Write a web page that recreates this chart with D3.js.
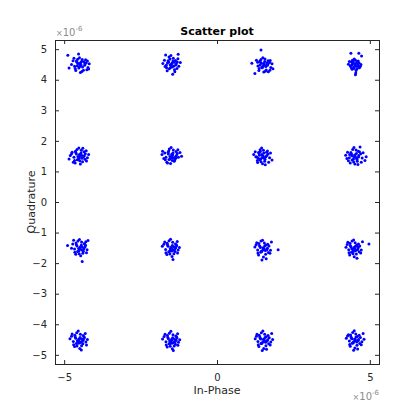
<!DOCTYPE html>
<html>
<head>
<meta charset="utf-8">
<script src="https://cdn.jsdelivr.net/npm/d3@7"></script>
<style>
  body { margin: 0; background: #fff; }
  text { font-family: "DejaVu Sans", sans-serif; }
</style>
</head>
<body>
<script>
// values in units of 1e-6
var xTicks = [-5, 0, 5];
var yTicks = [-5, -4, -3, -2, -1, 0, 1, 2, 3, 4, 5];
var exponent = -6;

var rowTop = [
  [-4.48,4.52],[-4.60,4.61],[-4.33,4.47],[-4.52,4.38],[-4.28,4.55],[-4.66,4.44],[-4.41,4.66],[-4.37,4.31],[-4.71,4.62],[-4.45,4.49],[-4.55,4.53],[-4.35,4.59],[-4.62,4.30],[-4.22,4.40],[-4.50,4.72],[-4.40,4.42],[-4.76,4.50],[-4.30,4.65],[-4.47,4.24],[-4.18,4.52],[-4.58,4.57],[-4.43,4.60],[-4.64,4.37],[-4.49,4.43],[-4.32,4.53],[-4.56,4.67],[-4.26,4.33],[-4.88,4.80],[-4.53,4.84],[-4.84,4.38],[-4.42,4.27],[-4.68,4.70],[-4.24,4.61],[-4.20,4.35],[-4.46,4.56],[-4.57,4.46],
  [-1.47,4.55],[-1.60,4.62],[-1.35,4.48],[-1.52,4.40],[-1.30,4.58],[-1.66,4.47],[-1.43,4.70],[-1.39,4.33],[-1.72,4.64],[-1.49,4.51],[-1.56,4.36],[-1.36,4.63],[-1.63,4.29],[-1.25,4.44],[-1.51,4.79],[-1.41,4.45],[-1.77,4.53],[-1.28,4.69],[-1.45,4.18],[-1.20,4.56],[-1.58,4.58],[-1.44,4.61],[-1.65,4.39],[-1.50,4.46],[-1.33,4.52],[-1.57,4.74],[-1.27,4.83],[-1.68,4.81],[-1.38,4.26],[-1.62,4.55],[-1.46,4.42],[-1.54,4.68],[-1.31,4.37],[-1.70,4.43],[-1.40,4.57],[-1.53,4.49],
  [1.52,4.53],[1.40,4.61],[1.65,4.47],[1.48,4.39],[1.72,4.56],[1.34,4.45],[1.57,4.68],[1.61,4.32],[1.29,4.64],[1.55,4.50],[1.45,4.54],[1.67,4.62],[1.37,4.30],[1.76,4.40],[1.50,4.72],[1.60,4.43],[1.83,4.36],[1.68,4.26],[1.53,4.25],[1.80,4.52],[1.42,4.58],[1.56,4.60],[1.38,4.37],[1.51,4.44],[1.66,4.51],[1.44,4.66],[1.73,4.31],[1.14,4.54],[1.44,4.97],[1.24,4.20],[1.58,4.28],[1.33,4.57],[1.74,4.63],[1.47,4.41],[1.63,4.55],[1.41,4.48],
  [4.50,4.52],[4.40,4.58],[4.61,4.47],[4.47,4.41],[4.65,4.55],[4.36,4.46],[4.53,4.64],[4.58,4.36],[4.33,4.60],[4.52,4.49],[4.44,4.53],[4.62,4.61],[4.42,4.34],[4.69,4.44],[4.49,4.68],[4.56,4.44],[4.30,4.51],[4.66,4.39],[4.54,4.22],[4.71,4.50],[4.45,4.57],[4.57,4.56],[4.39,4.40],[4.51,4.45],[4.60,4.52],[4.46,4.63],[4.55,4.30],[4.38,4.87],[4.64,4.87],[4.73,4.78],[4.53,4.16],[4.41,4.48],[4.63,4.43],[4.48,4.37],[4.59,4.58],[4.43,4.64]
];

var rowUpper = [
  [-4.50,1.55],[-4.62,1.62],[-4.37,1.47],[-4.54,1.40],[-4.31,1.58],[-4.68,1.46],[-4.44,1.69],[-4.40,1.32],[-4.74,1.63],[-4.48,1.50],[-4.57,1.38],[-4.35,1.64],[-4.64,1.28],[-4.24,1.45],[-4.52,1.77],[-4.42,1.43],[-4.80,1.52],[-4.28,1.68],[-4.47,1.24],[-4.20,1.55],[-4.60,1.57],[-4.45,1.60],[-4.66,1.36],[-4.51,1.44],[-4.34,1.51],[-4.58,1.72],[-4.27,1.34],[-4.84,1.41],[-4.39,1.76],[-4.70,1.30],[-4.55,1.49],[-4.43,1.53],[-4.63,1.66],[-4.32,1.40],[-4.49,1.35],[-4.76,1.58],
  [-1.48,1.56],[-1.60,1.63],[-1.36,1.47],[-1.53,1.41],[-1.30,1.59],[-1.67,1.46],[-1.43,1.70],[-1.40,1.33],[-1.78,1.66],[-1.47,1.51],[-1.57,1.39],[-1.34,1.65],[-1.64,1.30],[-1.26,1.46],[-1.50,1.78],[-1.42,1.44],[-1.80,1.55],[-1.21,1.62],[-1.52,1.26],[-1.16,1.50],[-1.59,1.57],[-1.44,1.60],[-1.69,1.38],[-1.49,1.45],[-1.33,1.52],[-1.56,1.73],[-1.62,1.28],[-1.74,1.42],[-1.38,1.37],[-1.28,1.71],[-1.54,1.49],[-1.45,1.54],[-1.71,1.60],[-1.35,1.43],[-1.46,1.36],[-1.58,1.67],
  [1.47,1.55],[1.36,1.62],[1.60,1.48],[1.43,1.41],[1.67,1.57],[1.30,1.47],[1.52,1.69],[1.56,1.33],[1.25,1.64],[1.50,1.51],[1.40,1.38],[1.62,1.63],[1.33,1.29],[1.72,1.45],[1.46,1.77],[1.55,1.44],[1.20,1.55],[1.75,1.60],[1.49,1.25],[1.80,1.37],[1.38,1.58],[1.53,1.60],[1.32,1.36],[1.48,1.45],[1.63,1.52],[1.41,1.71],[1.58,1.22],[1.69,1.30],[1.27,1.48],[1.44,1.32],[1.51,1.49],[1.39,1.53],[1.65,1.67],[1.35,1.43],[1.57,1.40],[1.42,1.65],
  [4.50,1.54],[4.38,1.62],[4.63,1.47],[4.46,1.40],[4.70,1.58],[4.33,1.45],[4.55,1.70],[4.59,1.33],[4.27,1.63],[4.52,1.50],[4.42,1.37],[4.66,1.64],[4.36,1.28],[4.75,1.44],[4.48,1.78],[4.57,1.43],[4.21,1.53],[4.78,1.61],[4.51,1.24],[4.84,1.36],[4.40,1.57],[4.56,1.59],[4.30,1.35],[4.49,1.46],[4.64,1.52],[4.44,1.72],[4.61,1.23],[4.72,1.30],[4.25,1.42],[4.47,1.31],[4.68,1.80],[4.41,1.51],[4.62,1.66],[4.34,1.55],[4.58,1.39],[4.88,1.48]
];

var rowLower = [
  [-4.48,-1.47],[-4.60,-1.40],[-4.36,-1.53],[-4.52,-1.60],[-4.30,-1.42],[-4.66,-1.54],[-4.43,-1.31],[-4.39,-1.68],[-4.72,-1.37],[-4.47,-1.50],[-4.56,-1.62],[-4.34,-1.36],[-4.62,-1.71],[-4.25,-1.56],[-4.50,-1.23],[-4.41,-1.57],[-4.89,-1.42],[-4.29,-1.30],[-4.46,-1.76],[-4.22,-1.26],[-4.58,-1.44],[-4.44,-1.41],[-4.65,-1.64],[-4.49,-1.55],[-4.33,-1.48],[-4.55,-1.28],[-4.27,-1.66],[-4.76,-1.51],[-4.41,-1.95],[-4.69,-1.25],[-4.53,-1.52],[-4.42,-1.46],[-4.61,-1.34],[-4.37,-1.61],[-4.51,-1.69],[-4.32,-1.39],
  [-1.50,-1.48],[-1.62,-1.41],[-1.38,-1.54],[-1.55,-1.61],[-1.32,-1.43],[-1.68,-1.55],[-1.45,-1.32],[-1.41,-1.69],[-1.74,-1.38],[-1.49,-1.51],[-1.58,-1.63],[-1.36,-1.37],[-1.64,-1.72],[-1.27,-1.57],[-1.52,-1.22],[-1.43,-1.58],[-1.79,-1.45],[-1.30,-1.29],[-1.47,-1.78],[-1.23,-1.49],[-1.60,-1.45],[-1.46,-1.42],[-1.67,-1.66],[-1.51,-1.56],[-1.35,-1.50],[-1.57,-1.27],[-1.29,-1.67],[-1.71,-1.31],[-1.44,-1.88],[-1.53,-1.53],[-1.40,-1.47],[-1.63,-1.35],[-1.37,-1.62],[-1.54,-1.70],[-1.33,-1.40],[-1.48,-1.60],
  [1.51,-1.50],[1.39,-1.43],[1.63,-1.56],[1.46,-1.62],[1.70,-1.44],[1.33,-1.57],[1.55,-1.34],[1.59,-1.71],[1.28,-1.40],[1.53,-1.52],[1.43,-1.64],[1.66,-1.38],[1.36,-1.73],[1.75,-1.58],[1.49,-1.25],[1.58,-1.59],[1.24,-1.47],[1.78,-1.31],[1.52,-1.80],[2.00,-1.56],[1.41,-1.46],[1.56,-1.44],[1.34,-1.67],[1.50,-1.57],[1.65,-1.51],[1.44,-1.28],[1.61,-1.86],[1.73,-1.68],[1.30,-1.33],[1.47,-1.90],[1.54,-1.54],[1.42,-1.49],[1.68,-1.65],[1.37,-1.36],[1.60,-1.41],[1.45,-1.61],
  [4.48,-1.49],[4.36,-1.42],[4.60,-1.55],[4.44,-1.62],[4.67,-1.44],[4.31,-1.56],[4.52,-1.33],[4.56,-1.70],[4.26,-1.39],[4.50,-1.51],[4.40,-1.64],[4.63,-1.37],[4.34,-1.73],[4.72,-1.57],[4.47,-1.24],[4.55,-1.58],[4.22,-1.48],[4.97,-1.37],[4.49,-1.79],[4.76,-1.30],[4.38,-1.46],[4.53,-1.45],[4.32,-1.66],[4.46,-1.56],[4.62,-1.50],[4.42,-1.28],[4.58,-1.84],[4.70,-1.67],[4.28,-1.32],[4.51,-1.60],[4.41,-1.53],[4.65,-1.63],[4.35,-1.35],[4.57,-1.41],[4.45,-1.69],[4.61,-1.47]
];

var rowBottom = [
  [-4.52,-4.49],[-4.64,-4.42],[-4.40,-4.55],[-4.56,-4.62],[-4.34,-4.44],[-4.70,-4.56],[-4.47,-4.33],[-4.43,-4.70],[-4.76,-4.39],[-4.51,-4.51],[-4.60,-4.63],[-4.38,-4.37],[-4.66,-4.73],[-4.29,-4.58],[-4.54,-4.22],[-4.45,-4.59],[-4.81,-4.47],[-4.31,-4.30],[-4.49,-4.79],[-4.24,-4.50],[-4.62,-4.46],[-4.48,-4.43],[-4.69,-4.67],[-4.53,-4.57],[-4.37,-4.51],[-4.59,-4.28],[-4.27,-4.68],[-4.74,-4.32],[-4.44,-4.84],[-4.57,-4.54],[-4.42,-4.48],[-4.65,-4.36],[-4.39,-4.64],[-4.58,-4.71],[-4.35,-4.41],[-4.50,-4.61],
  [-1.49,-4.50],[-1.61,-4.43],[-1.37,-4.56],[-1.54,-4.63],[-1.31,-4.45],[-1.67,-4.57],[-1.44,-4.34],[-1.40,-4.71],[-1.73,-4.40],[-1.48,-4.52],[-1.57,-4.64],[-1.35,-4.38],[-1.63,-4.74],[-1.26,-4.59],[-1.51,-4.23],[-1.42,-4.60],[-1.78,-4.48],[-1.29,-4.31],[-1.46,-4.80],[-1.22,-4.51],[-1.59,-4.47],[-1.45,-4.44],[-1.66,-4.68],[-1.50,-4.58],[-1.34,-4.52],[-1.56,-4.29],[-1.28,-4.69],[-1.70,-4.33],[-1.43,-4.86],[-1.55,-4.55],[-1.39,-4.49],[-1.62,-4.37],[-1.36,-4.65],[-1.53,-4.72],[-1.32,-4.42],[-1.47,-4.62],
  [1.52,-4.49],[1.40,-4.42],[1.64,-4.55],[1.47,-4.62],[1.71,-4.44],[1.34,-4.56],[1.56,-4.33],[1.60,-4.70],[1.29,-4.39],[1.54,-4.51],[1.44,-4.63],[1.67,-4.37],[1.37,-4.73],[1.76,-4.58],[1.50,-4.22],[1.59,-4.59],[1.25,-4.47],[1.79,-4.30],[1.53,-4.79],[1.82,-4.50],[1.42,-4.46],[1.57,-4.43],[1.35,-4.67],[1.51,-4.57],[1.66,-4.51],[1.45,-4.28],[1.62,-4.82],[1.74,-4.68],[1.31,-4.33],[1.48,-4.86],[1.55,-4.54],[1.43,-4.48],[1.69,-4.64],[1.38,-4.36],[1.61,-4.41],[1.46,-4.61],
  [4.50,-4.48],[4.38,-4.41],[4.62,-4.54],[4.45,-4.61],[4.69,-4.43],[4.33,-4.55],[4.54,-4.32],[4.58,-4.69],[4.27,-4.38],[4.52,-4.50],[4.42,-4.62],[4.65,-4.36],[4.36,-4.72],[4.74,-4.57],[4.49,-4.21],[4.57,-4.58],[4.23,-4.46],[4.78,-4.30],[4.51,-4.78],[4.81,-4.49],[4.40,-4.45],[4.55,-4.42],[4.34,-4.66],[4.48,-4.56],[4.63,-4.50],[4.44,-4.27],[4.60,-4.81],[4.72,-4.67],[4.30,-4.34],[4.47,-4.85],[4.53,-4.53],[4.41,-4.47],[4.67,-4.63],[4.37,-4.35],[4.59,-4.40],[4.46,-4.60]
];

var points = rowTop.concat(rowUpper, rowLower, rowBottom);

var margin = { top: 40, right: 41, bottom: 56, left: 55 };
var width = 420 - margin.left - margin.right;
var height = 420 - margin.top - margin.bottom;
var axisColor = "#262626";

var xScale = d3.scaleLinear().domain([-5.3, 5.3]).range([0, width]);
var yScale = d3.scaleLinear().domain([-5.3, 5.3]).range([height, 0]);

var svg = d3.select("body").append("svg")
    .attr("width", 420)
    .attr("height", 420)
    .style("background", "#fff");

var g = svg.append("g")
    .attr("transform", "translate(" + margin.left + "," + margin.top + ")");

// points
g.append("g")
    .selectAll("circle")
    .data(points)
    .enter().append("circle")
    .attr("cx", function(d) { return xScale(d[0]); })
    .attr("cy", function(d) { return yScale(d[1]); })
    .attr("r", 1.5)
    .attr("fill", "#0000ff");

function styleAxis(sel) {
    sel.select(".domain").remove();
    sel.selectAll(".tick line").attr("stroke", axisColor);
    sel.selectAll(".tick text")
        .attr("fill", axisColor)
        .attr("font-size", "10px")
        .attr("font-family", "DejaVu Sans, sans-serif");
}

// bottom / left axes with inward ticks
g.append("g")
    .attr("transform", "translate(0," + height + ")")
    .call(d3.axisBottom(xScale).tickValues(xTicks).tickSizeInner(-4).tickPadding(10))
    .call(styleAxis);

g.append("g")
    .call(d3.axisLeft(yScale).tickValues(yTicks).tickSizeInner(-4).tickPadding(8))
    .call(styleAxis);

// top / right ticks, no labels
g.append("g")
    .call(d3.axisTop(xScale).tickValues(xTicks).tickSizeInner(-4).tickFormat(""))
    .call(styleAxis);

g.append("g")
    .attr("transform", "translate(" + width + ",0)")
    .call(d3.axisRight(yScale).tickValues(yTicks).tickSizeInner(-4).tickFormat(""))
    .call(styleAxis);

// box
g.append("rect")
    .attr("x", 0.5)
    .attr("y", 0.5)
    .attr("width", width)
    .attr("height", height)
    .attr("fill", "none")
    .attr("stroke", axisColor)
    .attr("stroke-width", 1);

// title
svg.append("text")
    .attr("x", margin.left + width / 2)
    .attr("y", 35)
    .attr("text-anchor", "middle")
    .attr("font-size", "11px")
    .attr("font-weight", "bold")
    .attr("fill", "#000")
    .text("Scatter plot");

// axis labels
svg.append("text")
    .attr("x", margin.left + width / 2)
    .attr("y", 394)
    .attr("text-anchor", "middle")
    .attr("font-size", "11px")
    .attr("fill", axisColor)
    .text("In-Phase");

svg.append("text")
    .attr("transform", "translate(35," + (margin.top + height / 2) + ") rotate(-90)")
    .attr("text-anchor", "middle")
    .attr("font-size", "11px")
    .attr("fill", axisColor)
    .text("Quadrature");

// exponent labels
function expLabel(x, y, anchor) {
    var t = svg.append("text")
        .attr("x", x)
        .attr("y", y)
        .attr("text-anchor", anchor)
        .attr("font-size", "10px")
        .attr("fill", "#8c8c8c");
    t.append("tspan").attr("font-size", "8px").text("\u00d7");
    t.append("tspan").text("10");
    t.append("tspan").attr("font-size", "7px").attr("dy", -5).text(exponent);
}
expLabel(margin.left + 1, 36, "start");
expLabel(margin.left + width, 400, "end");
</script>
</body>
</html>
